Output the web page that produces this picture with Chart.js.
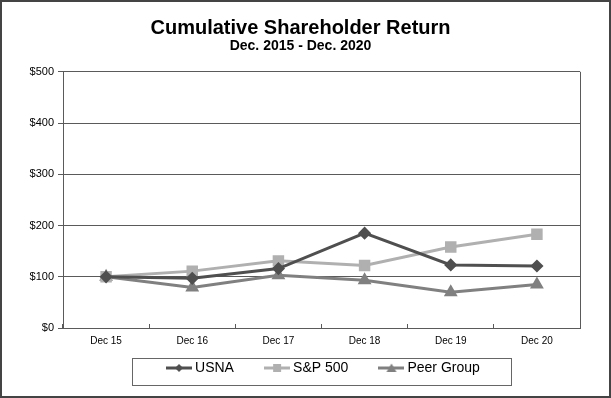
<!DOCTYPE html>
<html>
<head>
<meta charset="utf-8">
<script src="https://cdn.jsdelivr.net/npm/chart.js@4/dist/chart.umd.min.js"></script>
<style>
  body { margin: 0; background: #fff; }
  #wrap { width: 611px; height: 398px; }
</style>
</head>
<body>
<div id="wrap"><canvas id="myChart" width="611" height="398"></canvas></div>
<script>
const years = ['Dec 15', 'Dec 16', 'Dec 17', 'Dec 18', 'Dec 19', 'Dec 20']
const usna = [100, 97, 116, 185, 123, 121]
const sp500 = [100, 111, 131, 122, 158, 183]
const peerGroup = [100, 79, 103, 93, 70, 85]
const yTicks = [0, 100, 200, 300, 400, 500]

const darkGray = '#4f4f4f'
const lightGray = '#b0b0b0'
const midGray = '#808080'
const axisGray = '#5a5a5a'
const gap = '\u00a0'.repeat(8)

// little line+marker picture for the legend
function legendIcon(color, style) {
  const c = document.createElement('canvas')
  c.width = 26; c.height = 12
  const ctx = c.getContext('2d')
  ctx.strokeStyle = color
  ctx.fillStyle = color
  ctx.lineWidth = 3
  ctx.beginPath(); ctx.moveTo(0, 6); ctx.lineTo(26, 6); ctx.stroke()
  ctx.beginPath()
  if (style === 'diamond') {
    ctx.moveTo(13, 2); ctx.lineTo(17, 6); ctx.lineTo(13, 10); ctx.lineTo(9, 6)
  } else if (style === 'square') {
    ctx.rect(9, 2, 8, 8)
  } else {
    ctx.moveTo(13, 1.5); ctx.lineTo(18, 10); ctx.lineTo(8, 10)
  }
  ctx.closePath(); ctx.fill()
  return c
}

const frame = {
  id: 'frame',
  afterLayout(chart) {
    // the reference legend sits a bit right of centre
    chart.legend.left += 40
    chart.legend.right += 40
  },
  beforeDraw(chart) {
    const ctx = chart.ctx
    ctx.save()
    ctx.fillStyle = '#fff'
    ctx.fillRect(0, 0, chart.width, chart.height)
    ctx.strokeStyle = '#444'
    ctx.lineWidth = 2
    ctx.strokeRect(1, 1, chart.width - 2, chart.height - 2)
    ctx.restore()
  },
  afterDraw(chart) {
    const ctx = chart.ctx
    const a = chart.chartArea
    ctx.save()
    ctx.strokeStyle = axisGray
    ctx.lineWidth = 1
    ctx.beginPath()
    ctx.moveTo(Math.round(a.right) + 0.5, a.top); ctx.lineTo(Math.round(a.right) + 0.5, a.bottom)
    ctx.stroke()
    // box around the legend
    const boxes = chart.legend.legendHitBoxes
    const lg = chart.legend
    if (boxes && boxes.length) {
      const l = boxes[0].left - 38
      const last = boxes[boxes.length - 1]
      const r = last.left + last.width
      ctx.strokeStyle = '#666'
      ctx.strokeRect(Math.round(l) + 0.5, Math.round(lg.top) + 0.5, Math.round(r - l), Math.round(lg.height))
    }
    ctx.restore()
  }
}

const ctx = document.getElementById('myChart').getContext('2d')
const chart = new Chart(ctx, {
  type: 'line',
  data: {
    labels: years,
    datasets: [
      {
        label: 'USNA', data: usna, borderColor: darkGray, backgroundColor: darkGray,
        borderWidth: 3, pointStyle: 'rectRot', pointRadius: 4.5, pointHoverRadius: 4.5,
        legendIcon: legendIcon(darkGray, 'diamond')
      },
      {
        label: 'S&P 500', data: sp500, borderColor: lightGray, backgroundColor: lightGray,
        borderWidth: 3, pointStyle: 'rect', pointRadius: 6, pointHoverRadius: 6,
        legendIcon: legendIcon(lightGray, 'square')
      },
      {
        label: 'Peer Group', data: peerGroup, borderColor: midGray, backgroundColor: midGray,
        borderWidth: 3, pointStyle: 'triangle', pointRadius: 5, pointHoverRadius: 5,
        legendIcon: legendIcon(midGray, 'triangle')
      }
    ]
  },
  options: {
    responsive: false,
    animation: false,
    layout: { padding: { top: 18, right: 10, bottom: 13, left: 0 } },
    plugins: {
      title: {
        display: true, text: 'Cumulative Shareholder Return', color: '#000',
        font: { family: 'Arial, "Liberation Sans"', size: 20, weight: 'bold', lineHeight: 1.0 },
        padding: { top: 0, bottom: 0 }
      },
      subtitle: {
        display: true, text: 'Dec. 2015 - Dec. 2020', color: '#000',
        font: { family: 'Arial, "Liberation Sans"', size: 14, weight: 'bold' },
        padding: { top: 0, bottom: 17 }
      },
      legend: {
        position: 'bottom',
        labels: {
          color: '#000',
          font: { family: 'Arial, "Liberation Sans"', size: 14 },
          usePointStyle: true,
          pointStyleWidth: 18,
          padding: 3,
          generateLabels(chart) {
            return chart.data.datasets.map((ds, i) => ({
              text: ds.label + gap, pointStyle: ds.legendIcon, fontColor: '#000',
              strokeStyle: ds.borderColor, fillStyle: ds.backgroundColor,
              lineWidth: 0, datasetIndex: i, hidden: false
            }))
          }
        }
      },
      tooltip: { enabled: false }
    },
    scales: {
      x: {
        offset: true,
        afterFit(scale) { scale.height = 30 },
        grid: { offset: true, drawOnChartArea: false, color: axisGray, tickLength: -4 },
        border: { color: axisGray },
        ticks: { color: '#000', font: { family: 'Arial, "Liberation Sans"', size: 10 }, padding: 11 }
      },
      y: {
        min: 0, max: 500,
        afterFit(scale) { scale.width = 63 },
        afterBuildTicks(scale) { scale.ticks = yTicks.map(v => ({ value: v })) },
        grid: { color: axisGray, tickLength: 5 },
        border: { color: axisGray },
        ticks: {
          color: '#000', font: { family: 'Arial, "Liberation Sans"', size: 11 }, padding: 4,
          callback: v => '$' + v
        }
      },
      // empty right-hand strip so the plot ends where the reference does
      spacer: {
        type: 'linear', position: 'right', display: true,
        afterFit(scale) { scale.width = 21 },
        grid: { drawOnChartArea: false, display: false },
        border: { display: false },
        ticks: { display: false }
      }
    }
  },
  plugins: [frame]
})
</script>
</body>
</html>
